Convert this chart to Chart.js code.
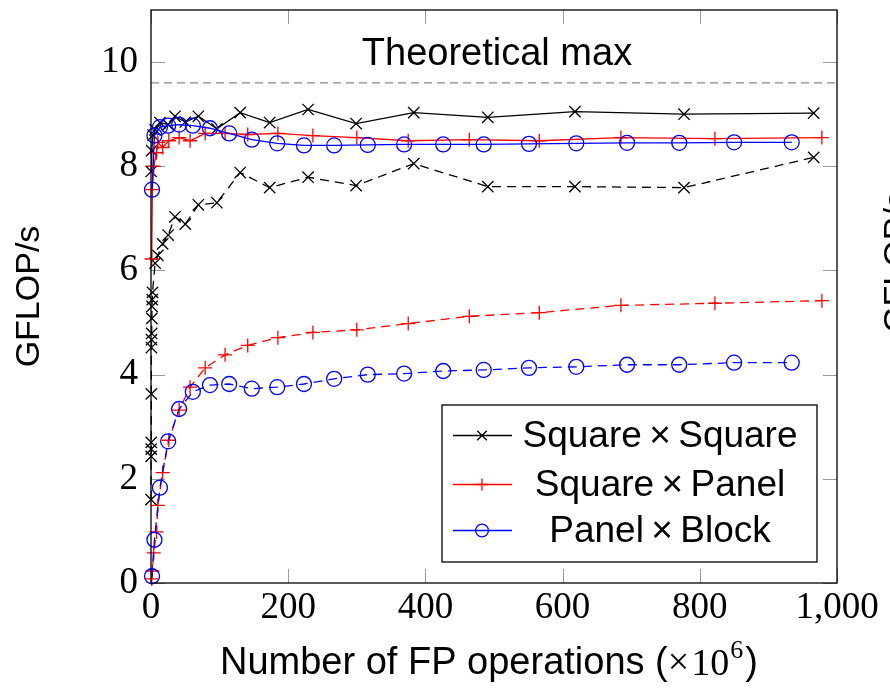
<!DOCTYPE html>
<html><head><meta charset="utf-8">
<script src="https://cdn.jsdelivr.net/npm/chart.js@4"></script>
<style>html,body{margin:0;padding:0;background:#fff}#wrap{width:890px;height:688px;position:relative}</style>
</head><body><div id="wrap"><canvas id="c" width="890" height="688"></canvas></div>
<script>
// ---------- data ----------
const seriesNames = ['Square\u2009\u00d7\u2009Square', 'Square\u2009\u00d7\u2009Panel', 'Panel\u2009\u00d7\u2009Block'];
const xTickLabels = [0, 200, 400, 600, 800, 1000];
const yTickLabels = [0, 2, 4, 6, 8, 10];
const theoreticalMax = 9.6;

const sqsqSolidX = [0.3, 1, 3, 6, 13, 25, 35, 50, 69, 96, 130, 173, 229, 299, 383, 491, 618, 777, 966];
const sqsqSolidY = [7.9, 8.3, 8.6, 8.7, 8.84, 8.8, 8.96, 8.85, 8.96, 8.72, 9.03, 8.84, 9.09, 8.82, 9.03, 8.94, 9.05, 9.0, 9.02];
const sqsqDashedX = [0.1, 0.2, 0.3, 0.4, 0.5, 0.6, 0.8, 1.0, 1.2, 1.5, 1.8, 2.2, 6, 10, 17, 25, 35, 50, 69, 96, 130, 173, 229, 299, 383, 491, 618, 777, 966];
const sqsqDashedY = [1.60, 2.43, 2.57, 2.70, 3.63, 4.52, 4.67, 4.79, 5.08, 5.31, 5.44, 5.58, 6.14, 6.29, 6.51, 6.68, 7.03, 6.89, 7.26, 7.30, 7.88, 7.59, 7.79, 7.63, 8.05, 7.61, 7.61, 7.59, 8.17];

const sqpaX = [1, 2, 4, 8, 10, 17, 26, 41, 57, 79, 108, 141, 185, 236, 300, 375, 464, 566, 685, 822, 978];
const sqpaSolidY = [6.22, 7.55, 8.0, 8.26, 8.46, 8.36, 8.49, 8.55, 8.49, 8.63, 8.63, 8.61, 8.63, 8.59, 8.55, 8.49, 8.51, 8.49, 8.55, 8.53, 8.55];
const sqpaDashedY = [0.08, 0.23, 0.58, 0.98, 1.49, 2.12, 2.74, 3.32, 3.76, 4.13, 4.38, 4.56, 4.71, 4.81, 4.86, 4.98, 5.12, 5.19, 5.33, 5.37, 5.42];

const pabuX = [1.5, 5, 13, 25, 41, 61, 86, 114, 147, 184, 223, 267, 316, 369, 426, 485, 551, 620, 694, 770, 850, 934];
const pabuSolidY = [7.55, 8.59, 8.75, 8.78, 8.80, 8.78, 8.73, 8.63, 8.51, 8.44, 8.40, 8.40, 8.41, 8.42, 8.42, 8.42, 8.43, 8.44, 8.45, 8.45, 8.46, 8.46];
const pabuDashedY = [0.13, 0.83, 1.83, 2.72, 3.34, 3.67, 3.80, 3.82, 3.73, 3.76, 3.82, 3.92, 4.00, 4.02, 4.07, 4.09, 4.13, 4.15, 4.19, 4.19, 4.23, 4.23];

// ---------- build ----------
const zip = (xs, ys) => xs.map((x, i) => ({x: x, y: ys[i]}));
const SANS = '"Liberation Sans", Arial, sans-serif';
const SERIF = '"Liberation Serif", "DejaVu Serif", serif';

const styles = [
  {color: '#000000', pointStyle: 'crossRot', radius: 8},
  {color: '#ff0000', pointStyle: 'cross', radius: 7},
  {color: '#0000ff', pointStyle: 'circle', radius: 7.5}
];
function ds(label, data, st, dashed, order) {
  return {
    label: label, data: data, borderColor: st.color, backgroundColor: 'transparent',
    borderWidth: 1.3, borderDash: dashed ? [9, 6] : [],
    pointStyle: st.pointStyle, pointRadius: st.radius, pointHoverRadius: st.radius,
    pointBorderColor: st.color, pointBackgroundColor: 'transparent', pointBorderWidth: 1.3,
    tension: 0, fill: false, clip: false, order: order
  };
}

const datasets = [
  ds(seriesNames[0], zip(sqsqSolidX, sqsqSolidY), styles[0], false, 5),
  ds(seriesNames[0] + ' (dashed)', zip(sqsqDashedX, sqsqDashedY), styles[0], true, 4),
  ds(seriesNames[1], zip(sqpaX, sqpaSolidY), styles[1], false, 3),
  ds(seriesNames[1] + ' (dashed)', zip(sqpaX, sqpaDashedY), styles[1], true, 2),
  ds(seriesNames[2], zip(pabuX, pabuSolidY), styles[2], false, 1),
  ds(seriesNames[2] + ' (dashed)', zip(pabuX, pabuDashedY), styles[2], true, 0),
  {
    label: 'Theoretical max', data: [{x: 0, y: theoreticalMax}, {x: 1000, y: theoreticalMax}],
    borderColor: '#8a8a8a', borderWidth: 1.2, borderDash: [8, 5], pointRadius: 0, order: 9, clip: true
  }
];

const framePlugin = {
  id: 'frame',
  beforeDatasetsDraw(chart) {
    const {ctx, chartArea: a, scales: {x, y}} = chart;
    ctx.save();
    ctx.strokeStyle = '#9a9a9a'; ctx.lineWidth = 1;
    const L = 14;
    ctx.beginPath();
    x.ticks.forEach(t => {
      const px = Math.round(x.getPixelForValue(t.value)) + 0.5;
      ctx.moveTo(px, a.bottom); ctx.lineTo(px, a.bottom - L);
      ctx.moveTo(px, a.top); ctx.lineTo(px, a.top + L);
    });
    y.ticks.forEach(t => {
      const py = Math.round(y.getPixelForValue(t.value)) + 0.5;
      ctx.moveTo(a.left, py); ctx.lineTo(a.left + L, py);
      ctx.moveTo(a.right, py); ctx.lineTo(a.right - L, py);
    });
    ctx.stroke();
    // label of theoretical max
    ctx.fillStyle = '#000'; ctx.font = '38px ' + SANS;
    ctx.textAlign = 'center'; ctx.textBaseline = 'middle';
    ctx.fillText('Theoretical max', 497, 55);
    ctx.restore();
  },
  afterDraw(chart) {
    const {ctx, chartArea: a} = chart;
    ctx.save();
    ctx.strokeStyle = '#000'; ctx.lineWidth = 1.3;
    ctx.strokeRect(a.left, a.top, a.right - a.left, a.bottom - a.top);
    // axis titles
    ctx.fillStyle = '#000';
    ctx.textAlign = 'left'; ctx.textBaseline = 'middle';
    let cx = 220;
    const piece = (txt, font, dy) => { ctx.font = font; ctx.fillText(txt, cx, 664 + dy); cx += ctx.measureText(txt).width; };
    piece('Number of FP operations (', '38px ' + SANS, 0);
    piece('\u00d7', '38px ' + SERIF, 0);
    cx += 2;
    piece('10', '38px ' + SERIF, 1);
    cx += 1;
    piece('6', '26px ' + SERIF, -13);
    cx += 2;
    piece(')', '38px ' + SANS, 0);
    ctx.font = '34px ' + SANS;
    ctx.save();
    ctx.translate(30, (a.top + a.bottom) / 2); ctx.rotate(-Math.PI / 2);
    ctx.textAlign = 'center'; ctx.fillText('GFLOP/s', 0, 0);
    ctx.restore();
    ctx.save();
    ctx.translate(898, 262); ctx.rotate(-Math.PI / 2);
    ctx.textAlign = 'center'; ctx.fillText('GFLOP/s', 0, 0);
    ctx.restore();
    // legend
    const bx = 442, by = 405, bw = 375, bh = 157;
    ctx.fillStyle = '#fff'; ctx.fillRect(bx, by, bw, bh);
    ctx.strokeStyle = '#000'; ctx.lineWidth = 1.3; ctx.strokeRect(bx, by, bw, bh);
    const rows = [435, 484, 530];
    seriesNames.forEach((name, i) => {
      const st = styles[i];
      ctx.strokeStyle = st.color; ctx.lineWidth = 1.3; ctx.setLineDash([]);
      ctx.beginPath(); ctx.moveTo(453, rows[i] + 0.5); ctx.lineTo(512, rows[i] + 0.5); ctx.stroke();
      ctx.fillStyle = 'rgba(0,0,0,0)';
      Chart.helpers.drawPoint(ctx, {pointStyle: st.pointStyle, radius: st.radius * 0.85, borderWidth: 1.3, rotation: 0}, 482, rows[i] + 0.5);
      ctx.fillStyle = '#000'; ctx.font = '37px ' + SANS; ctx.textAlign = 'center'; ctx.textBaseline = 'middle';
      ctx.fillText(name, 660, rows[i] + 2);
    });
    ctx.restore();
  }
};

new Chart(document.getElementById('c'), {
  type: 'line',
  data: {datasets: datasets},
  options: {
    responsive: false, animation: false, devicePixelRatio: 1,
    layout: {padding: {left: 0, right: 53, top: 10, bottom: 0}},
    plugins: {legend: {display: false}, tooltip: {enabled: false}},
    scales: {
      x: {
        type: 'linear', min: 0, max: 1000,
        afterBuildTicks: s => { s.ticks = xTickLabels.map(v => ({value: v})); },
        afterFit: s => { s.height = 105; s.paddingLeft = 0; s.paddingRight = 0; },
        grid: {display: false, drawTicks: false}, border: {display: false},
        ticks: {font: {family: SERIF, size: 37}, color: '#000', padding: 3, maxRotation: 0, autoSkip: false,
          callback: v => v.toLocaleString('en-US')}
      },
      y: {
        type: 'linear', min: 0, max: 11,
        afterBuildTicks: s => { s.ticks = yTickLabels.map(v => ({value: v})); },
        afterFit: s => { s.width = 151; s.paddingTop = 0; s.paddingBottom = 0; },
        grid: {display: false, drawTicks: false}, border: {display: false},
        ticks: {font: {family: SERIF, size: 37}, color: '#000', padding: 13, autoSkip: false}
      }
    }
  },
  plugins: [framePlugin]
});
</script></body></html>
